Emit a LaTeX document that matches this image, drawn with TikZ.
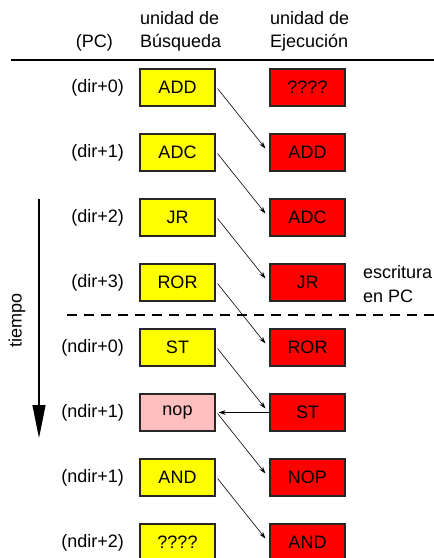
\documentclass[tikz,border=0pt]{standalone}
\usepackage{fontspec}
\setmainfont{Liberation Sans}
\usetikzlibrary{arrows.meta}
\definecolor{fetchyellow}{HTML}{FFFF00}
\definecolor{execred}{HTML}{FF0000}
\definecolor{noppink}{HTML}{FFBFBF}
\begin{document}
\begin{tikzpicture}[x=1pt,y=-1pt,
  txt/.style={font=\fontsize{18}{22}\selectfont, inner sep=0pt},
  stage/.style={txt, draw=black!85, line width=1.1pt, minimum width=75pt,
    minimum height=37pt, anchor=center},
  fetchbox/.style={stage, fill=fetchyellow},
  execbox/.style={stage, fill=execred},
  nopbox/.style={stage, fill=noppink},
  pclabel/.style={txt, anchor=east},
  flow/.style={line width=0.6pt, -{Stealth[length=7pt,width=4.5pt]}}
]
\useasboundingbox (0,0) rectangle (434,558);

% column headings (base anchor sits on the last line)
\node[txt, anchor=base west, align=left] (hf) at (140,47) {unidad de\\[1pt]Búsqueda};
\node[txt, anchor=base west, align=left] (he) at (270,47) {unidad de\\[1pt]Ejecución};
\node[txt, anchor=base east] (hpc) at (113,47) {(PC)};
\draw[line width=1.4pt] (11,60) -- (434,60);

% program counter values
\foreach \i/\t in {0/(dir+0),1/(dir+1),2/(dir+2),3/(dir+3),
                   4/(ndir+0),5/(ndir+1),6/(ndir+1),7/(ndir+2)}
  \node[pclabel] (p\i) at (124,{87.5+65*\i}) {\t};

% fetch unit column
\node[fetchbox] (f0) at (177.5,87.5)  {ADD};
\node[fetchbox] (f1) at (177.5,152.5) {ADC};
\node[fetchbox] (f2) at (177.5,217.5) {JR};
\node[fetchbox] (f3) at (177.5,282.5) {ROR};
\node[fetchbox] (f4) at (177.5,347.5) {ST};
\node[nopbox]   (f5) at (177.5,412.5) {nop};
\node[fetchbox] (f6) at (177.5,477.5) {AND};
\node[fetchbox] (f7) at (177.5,542.5) {????};

% execution unit column
\node[execbox] (e0) at (307.5,87.5)  {????};
\node[execbox] (e1) at (307.5,152.5) {ADD};
\node[execbox] (e2) at (307.5,217.5) {ADC};
\node[execbox] (e3) at (307.5,282.5) {JR};
\node[execbox] (e4) at (307.5,347.5) {ROR};
\node[execbox] (e5) at (307.5,412.5) {ST};
\node[execbox] (e6) at (307.5,477.5) {NOP};
\node[execbox] (e7) at (307.5,542.5) {AND};

% instructions moving from fetch to execute
\foreach \a/\b in {f0/e1,f1/e2,f2/e3,f3/e4,f4/e5,f5/e6,f6/e7}
  \draw[flow] ([xshift=2pt,yshift=-1pt]\a.east) -- ([xshift=-4pt,yshift=4pt]\b.west);

% the jump discards the fetched instruction
\draw[flow] (e5.west) -- ([xshift=3pt]f5.east);

% jump writes the PC
\node[txt, anchor=west, align=left] (wpc) at (363,284) {escritura\\[2pt]en PC};
\draw[line width=1.2pt, dash pattern=on 10pt off 7pt] (67,315) -- (434,315);

% time axis
\coordinate (t0) at (39,199);
\coordinate (t1) at (39,438);
\draw[line width=1.1pt, -{Triangle[length=33pt,width=13pt]}] (t0) -- (t1);
\node[txt, rotate=90] (tiempo) at (17,320) {tiempo};
\end{tikzpicture}
\end{document}
